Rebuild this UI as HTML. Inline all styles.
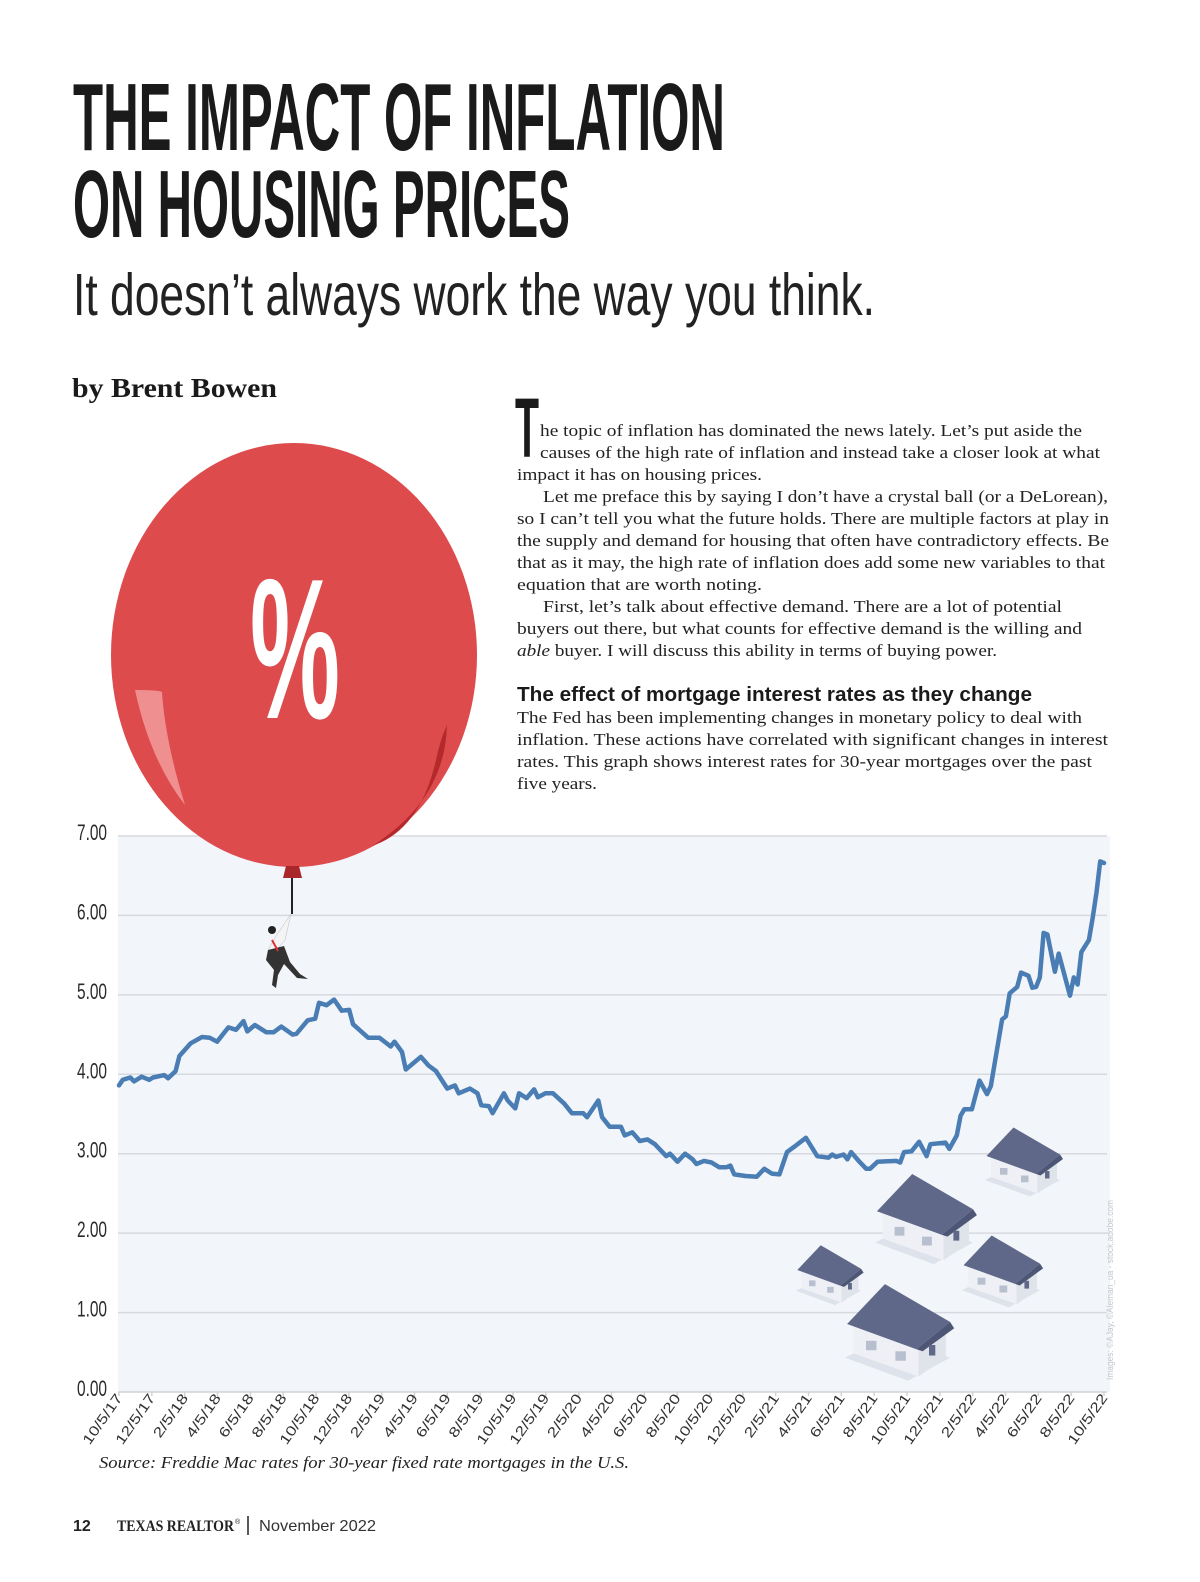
<!DOCTYPE html>
<html><head><meta charset="utf-8"><style>
html,body{margin:0;padding:0;background:#fff;}
svg{display:block;}
.body{font-family:"Liberation Serif",serif;font-size:17px;fill:#222;}
.yl{font-family:"Liberation Sans",sans-serif;font-size:22px;fill:#2a2a2a;}
.xl{font-family:"Liberation Sans",sans-serif;font-size:14px;fill:#333;}
</style></head><body>
<svg id="page" width="1200" height="1582" viewBox="0 0 1200 1582" xmlns="http://www.w3.org/2000/svg">
<rect width="1200" height="1582" fill="#fff"/>
<g font-family="Liberation Sans, sans-serif" font-weight="bold" fill="#1a1a1a">
<text x="73" y="150" font-size="96" textLength="652" lengthAdjust="spacingAndGlyphs">THE IMPACT OF INFLATION</text>
<text x="73" y="237" font-size="96" textLength="497" lengthAdjust="spacingAndGlyphs">ON HOUSING PRICES</text>
</g>
<text x="73" y="315" font-family="Liberation Sans, sans-serif" font-size="59" fill="#222" textLength="802" lengthAdjust="spacingAndGlyphs">It doesn’t always work the way you think.</text>
<text x="72" y="397" font-family="Liberation Serif, serif" font-weight="bold" font-size="27" fill="#1a1a1a" textLength="205" lengthAdjust="spacingAndGlyphs">by Brent Bowen</text>

<g class="body" transform="translate(0,4)">
<text x="515" y="453" font-family="Liberation Sans, sans-serif" font-weight="bold" font-size="84" textLength="24" lengthAdjust="spacingAndGlyphs" fill="#1a1a1a">T</text>
<text x="540" y="432" textLength="542" lengthAdjust="spacingAndGlyphs">he topic of inflation has dominated the news lately. Let’s put aside the</text>
<text x="540" y="454" textLength="560" lengthAdjust="spacingAndGlyphs">causes of the high rate of inflation and instead take a closer look at what</text>
<text x="517" y="476" textLength="245" lengthAdjust="spacingAndGlyphs">impact it has on housing prices.</text>
<text x="543" y="498" textLength="565" lengthAdjust="spacingAndGlyphs">Let me preface this by saying I don’t have a crystal ball (or a DeLorean),</text>
<text x="517" y="520" textLength="592" lengthAdjust="spacingAndGlyphs">so I can’t tell you what the future holds. There are multiple factors at play in</text>
<text x="517" y="542" textLength="592" lengthAdjust="spacingAndGlyphs">the supply and demand for housing that often have contradictory effects. Be</text>
<text x="517" y="564" textLength="588" lengthAdjust="spacingAndGlyphs">that as it may, the high rate of inflation does add some new variables to that</text>
<text x="517" y="586" textLength="245" lengthAdjust="spacingAndGlyphs">equation that are worth noting.</text>
<text x="543" y="608" textLength="519" lengthAdjust="spacingAndGlyphs">First, let’s talk about effective demand. There are a lot of potential</text>
<text x="517" y="630" textLength="565" lengthAdjust="spacingAndGlyphs">buyers out there, but what counts for effective demand is the willing and</text>
<text x="517" y="652" textLength="480" lengthAdjust="spacingAndGlyphs"><tspan font-style="italic">able</tspan> buyer. I will discuss this ability in terms of buying power.</text>
<text x="517" y="697" font-family="Liberation Sans, sans-serif" font-weight="bold" font-size="20" fill="#1a1a1a" textLength="515" lengthAdjust="spacingAndGlyphs">The effect of mortgage interest rates as they change</text>
<text x="517" y="719" textLength="565" lengthAdjust="spacingAndGlyphs">The Fed has been implementing changes in monetary policy to deal with</text>
<text x="517" y="741" textLength="591" lengthAdjust="spacingAndGlyphs">inflation. These actions have correlated with significant changes in interest</text>
<text x="517" y="763" textLength="575" lengthAdjust="spacingAndGlyphs">rates. This graph shows interest rates for 30-year mortgages over the past</text>
<text x="517" y="785" textLength="80" lengthAdjust="spacingAndGlyphs">five years.</text>
</g>

<g id="chart">
<rect x="118" y="836" width="992" height="556" fill="#f2f5f9"/>
<g id="grid"></g>
<g id="houses"></g>
<g id="xaxis"></g>
<path id="line" fill="none" stroke="#4a7db4" stroke-width="4.5" stroke-linejoin="round" stroke-linecap="round"/>
</g>

<g>
<ellipse cx="294" cy="655" rx="183" ry="212" fill="#dd4b4d"/>
<path d="M447 725 Q445 800 372 846 Q420 830 436 760 Q440 740 447 725 Z" fill="#b5282c"/>
<path d="M135 690 Q158 690 162 692 Q165 740 185 805 Q150 760 135 690 Z" fill="#ef8f90"/>
<text x="250" y="718" font-family="Liberation Sans, sans-serif" font-weight="bold" font-size="200" fill="#fff" textLength="90" lengthAdjust="spacingAndGlyphs">%</text>
<path d="M286 866 L299 866 L302 878 L283 878 Z" fill="#a9262a"/>
<line x1="292" y1="878" x2="292" y2="914" stroke="#222" stroke-width="2"/>
<g>
<circle cx="272" cy="930" r="4" fill="#222"/>
<path d="M291 914 L285 940 L272 955 L268 950 L276 936 Z" fill="#f4f4f4" stroke="#bbb" stroke-width="0.5"/>
<path d="M268 950 L284 946 L290 962 L300 974 L308 979 L297 978 L284 964 L278 975 L276 988 L272 985 L274 970 L266 960 Z" fill="#333"/>
<path d="M272 940 L278 951" stroke="#d33" stroke-width="2"/>
</g>
</g>

<text x="99" y="1468" font-family="Liberation Serif, serif" font-style="italic" font-size="17" fill="#222" textLength="530" lengthAdjust="spacingAndGlyphs">Source: Freddie Mac rates for 30-year fixed rate mortgages in the U.S.</text>
<text transform="translate(1113,1380) rotate(-90)" font-family="Liberation Sans, sans-serif" font-size="9" fill="#c4c7cc" textLength="180" lengthAdjust="spacingAndGlyphs">Images: ©AJay, ©Aleman_ua - stock.adobe.com</text>

<g>
<text x="73" y="1531" font-family="Liberation Sans, sans-serif" font-weight="bold" font-size="16" fill="#222">12</text>
<text x="117" y="1531" font-family="Liberation Serif, serif" font-weight="bold" font-size="16" fill="#222" textLength="117" lengthAdjust="spacingAndGlyphs">TEXAS REALTOR</text>
<text x="235" y="1524" font-family="Liberation Sans, sans-serif" font-size="7" fill="#222">®</text>
<line x1="248" y1="1516" x2="248" y2="1535" stroke="#222" stroke-width="1.5"/>
<text x="259" y="1531" font-family="Liberation Sans, sans-serif" font-size="16" fill="#333" textLength="117" lengthAdjust="spacingAndGlyphs">November 2022</text>
</g>
</svg>
<script>
// ---- chart data ----
const weeks = [0,1,3,4,6,8,9,12,13,15,16,19,22,24,26,29,31,33,34,36,39,41,43,46,47,50,52,53,55,57,59,61,62,66,69,72,73,75,76,80,82,84,87,89,90,93,95,96,98,99,102,103,105,106,108,110,111,113,115,118,120,123,124,127,128,
130,133,134,136,138,140,142,145,146,148,150,152,153,155,157,159,161,162,163,166,169,171,173,175,177,179,182,185,188,189,190,192,193,194,196,198,199,201,206,207,208,210,212,214,215,219,220,222,223,224,226,228,230,231,234,235,236,238,239,241,242,243,244,245,246,248,249,252,253,254,255,257,258,259,260,261];
const rates = [3.86,3.93,3.96,3.91,3.97,3.93,3.96,3.99,3.95,4.04,4.23,4.39,4.47,4.46,4.41,4.59,4.56,4.67,4.54,4.62,4.53,4.53,4.60,4.50,4.51,4.68,4.70,4.90,4.87,4.94,4.80,4.81,4.63,4.46,4.46,4.35,4.41,4.28,4.06,4.22,4.11,4.04,3.82,3.86,3.76,3.82,3.76,3.61,3.60,3.51,3.76,3.67,3.57,3.76,3.70,3.81,3.71,3.76,3.76,3.63,3.51,3.51,3.46,3.67,3.46,
3.34,3.34,3.23,3.27,3.16,3.18,3.12,2.97,3.00,2.90,3.00,2.93,2.87,2.91,2.89,2.83,2.83,2.85,2.74,2.72,2.71,2.81,2.75,2.74,3.02,3.09,3.20,2.97,2.95,2.99,2.96,2.99,2.93,3.02,2.91,2.81,2.81,2.90,2.91,2.89,3.02,3.03,3.15,2.97,3.12,3.14,3.06,3.23,3.48,3.56,3.56,3.92,3.75,3.85,4.69,4.73,5.02,5.10,5.28,5.24,5.09,5.10,5.22,5.78,5.76,5.29,5.52,4.99,5.22,5.13,5.54,5.69,5.97,6.29,6.68,6.66];
const yTicks = [0,1,2,3,4,5,6,7];
const yTickLabels = ["0.00","1.00","2.00","3.00","4.00","5.00","6.00","7.00"];
const xLabels = ["10/5/17","12/5/17","2/5/18","4/5/18","6/5/18","8/5/18","10/5/18","12/5/18","2/5/19","4/5/19","6/5/19","8/5/19","10/5/19","12/5/19","2/5/20","4/5/20","6/5/20","8/5/20","10/5/20","12/5/20","2/5/21","4/5/21","6/5/21","8/5/21","10/5/21","12/5/21","2/5/22","4/5/22","6/5/22","8/5/22","10/5/22"];
const totalWeeks = 261;

const NS = "http://www.w3.org/2000/svg";
const X0 = 119, X1 = 1104, Y0 = 1392, Y7 = 836;
function xScale(w){ return X0 + (w/totalWeeks)*(X1-X0); }
function yScale(v){ return Y0 - (v/7)*(Y0-Y7); }

const grid = document.getElementById('grid');
yTicks.forEach((t,i)=>{
  const y = yScale(t);
  const ln = document.createElementNS(NS,'line');
  ln.setAttribute('x1',118); ln.setAttribute('x2',1107);
  ln.setAttribute('y1',y); ln.setAttribute('y2',y);
  ln.setAttribute('stroke', t===0 ? '#cfd2d6' : '#d6d9de');
  ln.setAttribute('stroke-width', 1.5);
  
  
  grid.appendChild(ln);
  const tx = document.createElementNS(NS,'text');
  tx.setAttribute('x',107); tx.setAttribute('y',y+4);
  tx.setAttribute('text-anchor','end');
  tx.setAttribute('class','yl');
  tx.setAttribute('textLength',30);
  tx.setAttribute('lengthAdjust','spacingAndGlyphs');
  tx.textContent = yTickLabels[i];
  
  
  grid.appendChild(tx);
});

const xa = document.getElementById('xaxis');
xLabels.forEach((lab,i)=>{
  const x = xScale(i*totalWeeks/(xLabels.length-1));
  const tk = document.createElementNS(NS,'line');
  tk.setAttribute('x1',x); tk.setAttribute('x2',x);
  tk.setAttribute('y1',Y0); tk.setAttribute('y2',Y0+4);
  tk.setAttribute('stroke','#cfd2d6'); tk.setAttribute('stroke-width',1.5);
  
  
  xa.appendChild(tk);
  const tx = document.createElementNS(NS,'text');
  tx.setAttribute('transform','translate('+(x+4)+','+(Y0+6)+') rotate(-55)');
  tx.setAttribute('text-anchor','end');
  tx.setAttribute('class','xl');
  tx.setAttribute('textLength', lab.length*8.3);
  tx.setAttribute('lengthAdjust','spacingAndGlyphs');
  tx.textContent = lab;
  
  
  xa.appendChild(tx);
});

let d = '';
weeks.forEach((w,i)=>{ d += (i?'L':'M') + xScale(w).toFixed(1) + ' ' + yScale(rates[i]).toFixed(1) + ' '; });
document.getElementById('line').setAttribute('d', d);

// houses illustration
const housesG = document.getElementById('houses');
const housePlaces = [[985,1126,0.75],[875,1172,0.98],[796,1244,0.65],[962,1234,0.78],[845,1282,1.05]];
housePlaces.forEach(p=>{
  const g = document.createElementNS(NS,'g');
  g.setAttribute('transform','translate('+p[0]+','+p[1]+') scale('+p[2]+')');
  g.innerHTML = '<polygon points="0,72 60,94 100,72 40,52" fill="#dde2eb"/>'+
    '<polygon points="8,38 70,62 70,90 8,68" fill="#eef0f5"/>'+
    '<polygon points="70,62 96,44 96,72 70,90" fill="#dfe3ea"/>'+
    '<rect x="20" y="56" width="10" height="9" fill="#b8bfcf"/>'+
    '<rect x="48" y="66" width="10" height="9" fill="#b8bfcf"/>'+
    '<polygon points="2,40 38,2 100,38 68,64" fill="#5f6889"/>'+
    '<polygon points="68,64 100,38 104,44 74,66" fill="#4e5676"/>'+
    '<rect x="80" y="60" width="6" height="10" fill="#5f6889"/>';
  
  
  housesG.appendChild(g);
});
</script>
</body></html>
